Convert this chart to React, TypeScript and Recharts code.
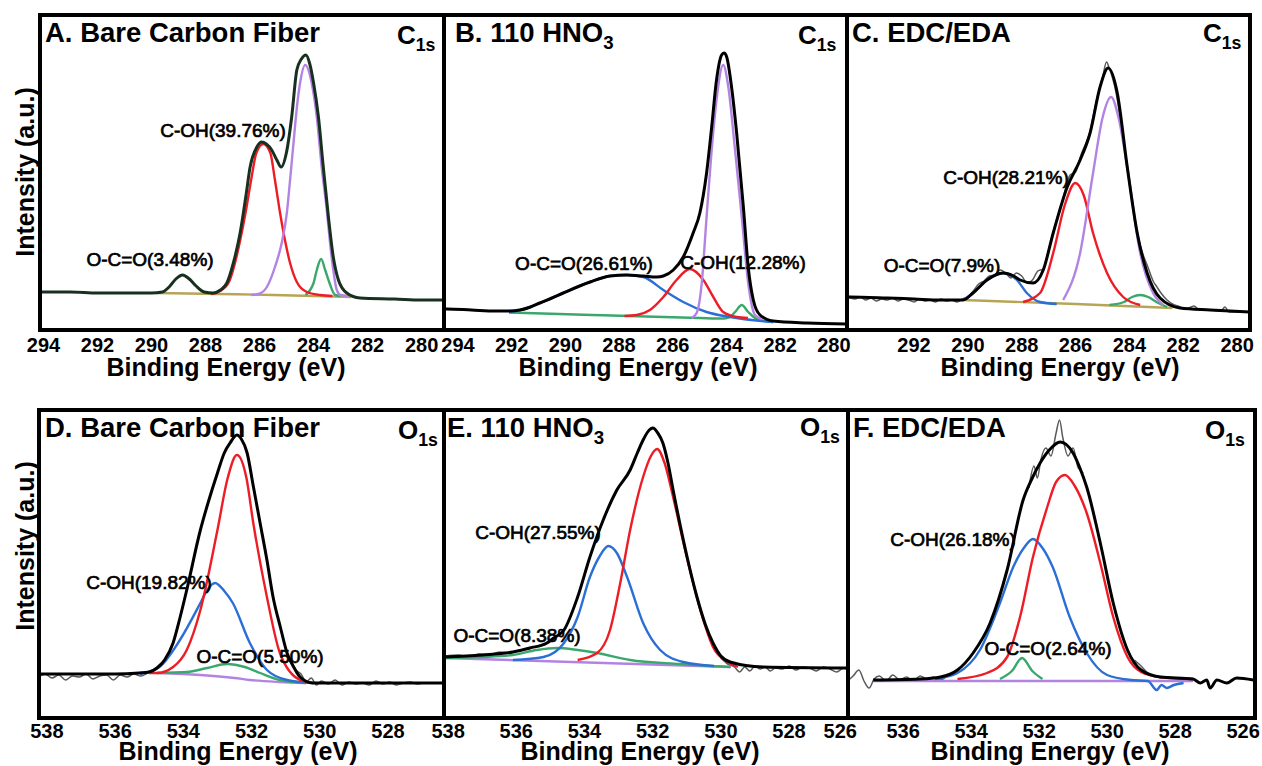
import React from 'react';
import { LineChart, Line, XAxis, YAxis } from 'recharts';

type Pt = [number, number];

const FONT = '"Liberation Sans", Arial, Helvetica, sans-serif';

// tick labels
const c1sTicks = [294, 292, 290, 288, 286, 284, 282, 280];
const c1sTicksC = [292, 290, 288, 286, 284, 282, 280];
const o1sTicksD = [538, 536, 534, 532, 530, 528];
const o1sTicksE = [538, 536, 534, 532, 530, 528, 526];
const o1sTicksF = [536, 534, 532, 530, 528, 526];

// ---- A. Bare carbon fiber, C1s ----
const aEnvelope: Pt[] = [
  [294.13, 38], [293.5, 38], [293.0, 38], [292.0, 37], [291.0, 37], [290.0, 37], [289.6, 38], [289.35, 43],
  [289.1, 51], [288.85, 55], [288.6, 51], [288.35, 44], [288.05, 38], [287.72, 37], [287.45, 40], [287.21, 47],
  [286.97, 67], [286.72, 97], [286.5, 135], [286.35, 163], [286.1, 183], [285.92, 188], [285.75, 186],
  [285.55, 180], [285.36, 170], [285.2, 163], [285.0, 178], [284.81, 213], [284.62, 260], [284.45, 271],
  [284.28, 275], [284.14, 266], [284.0, 247], [283.82, 213], [283.64, 163], [283.45, 113], [283.27, 73],
  [283.08, 50], [282.77, 37], [282.28, 32], [281.0, 31], [280.0, 30], [279.17, 30],
];
const aCOH: Pt[] = [
  [287.8, 36], [287.4, 40], [287.1, 50], [286.9, 68], [286.7, 92], [286.5, 120], [286.3, 152], [286.12, 177],
  [285.86, 186], [285.6, 177], [285.43, 150], [285.24, 117], [285.06, 90], [284.87, 67], [284.62, 48],
  [284.25, 38], [283.76, 35], [283.3, 34],
];
const aCC: Pt[] = [
  [286.3, 35], [286.04, 36], [285.73, 43], [285.43, 63], [285.18, 87], [284.99, 117], [284.87, 150],
  [284.75, 185], [284.62, 222], [284.5, 247], [284.31, 265], [284.07, 247], [283.88, 213], [283.7, 163],
  [283.51, 120], [283.39, 87], [283.27, 60], [283.14, 40], [283.0, 35], [282.7, 34],
];
const aCsp2: Pt[] = [
  [284.3, 35], [284.0, 47], [283.88, 60], [283.72, 71], [283.57, 60], [283.41, 47], [283.2, 35], [283.0, 34],
];
const aBase: Pt[] = [[289.8, 37], [287.5, 36], [285.5, 35], [284.0, 34], [282.6, 33]];

// ---- B. 110 HNO3, C1s ----
const bEnvelope: Pt[] = [
  [294.52, 21], [294.42, 21], [293.5, 20], [292.6, 19], [292.1, 19], [291.69, 20], [291.3, 23], [290.95, 27],
  [290.5, 32], [290.08, 37], [289.08, 48], [288.34, 54], [287.72, 55], [287.1, 54], [286.6, 53], [286.35, 54],
  [285.98, 60], [285.61, 73], [285.24, 97], [284.99, 117], [284.74, 157], [284.55, 203], [284.37, 250],
  [284.18, 275], [284.09, 277], [283.99, 273], [283.81, 243], [283.62, 197], [283.37, 123], [283.19, 63],
  [283.0, 30], [282.75, 15], [282.26, 9], [281.0, 7], [279.51, 6],
];
const bOCO: Pt[] = [
  [292.1, 18], [291.69, 20], [291.3, 23], [290.95, 27], [290.5, 32], [290.08, 37], [289.08, 48], [288.34, 54],
  [287.72, 55], [287.1, 53], [286.35, 40], [285.61, 28], [284.74, 18], [283.87, 13], [282.26, 8],
];
const bCOH: Pt[] = [
  [287.8, 14], [287.34, 15], [286.85, 20], [286.35, 33], [285.86, 50], [285.36, 61], [284.86, 50], [284.49, 33],
  [284.12, 18], [283.62, 13], [283.2, 12],
];
const bCC: Pt[] = [
  [285.3, 12], [285.11, 17], [284.92, 47], [284.74, 113], [284.55, 180], [284.37, 230], [284.12, 265],
  [283.93, 243], [283.68, 180], [283.43, 113], [283.19, 47], [282.94, 15], [282.7, 11],
];
const bCsp2: Pt[] = [
  [292.1, 17.5], [289.0, 15], [287.0, 13.5], [285.0, 12], [284.1, 11.5], [283.87, 13], [283.68, 18], [283.43, 25],
  [283.19, 18], [282.94, 12], [282.6, 9], [282.26, 8],
];

// ---- C. EDC/EDA, C1s ----
const cRaw: Pt[] = [
  [294.45, 33], [294.2, 31], [294.0, 33], [293.8, 30], [293.6, 32], [293.4, 29], [293.2, 31], [293.0, 30],
  [292.8, 32], [292.6, 29], [292.4, 31], [292.2, 30], [292.0, 28], [291.8, 31], [291.6, 29], [291.4, 30],
  [291.2, 28], [291.0, 31], [290.8, 29], [290.6, 30], [290.4, 28], [290.2, 31], [290.0, 33], [289.8, 39],
  [289.6, 46], [289.4, 49], [289.2, 54], [289.0, 55], [288.8, 60], [288.6, 57], [288.4, 52], [288.2, 57],
  [288.0, 54], [287.8, 47], [287.6, 50], [287.4, 59], [287.2, 61], [287.0, 80], [286.8, 101], [286.5, 128],
  [286.2, 155], [286.0, 158], [285.8, 175], [285.5, 195], [285.2, 232], [285.0, 252], [284.85, 268],
  [284.75, 262], [284.5, 238], [284.2, 185], [283.9, 128], [283.6, 85], [283.3, 62], [283.1, 48], [283.0, 44],
  [282.8, 36], [282.6, 30], [282.4, 26], [282.2, 24], [281.9, 21], [281.6, 24], [281.4, 20], [281.0, 20],
  [280.6, 19], [280.45, 23], [280.3, 18], [279.55, 18],
];
const cEnvelope: Pt[] = [
  [294.49, 33], [294.38, 33], [293.0, 32], [292.0, 31], [291.0, 30], [290.18, 30], [289.81, 37], [289.29, 50],
  [288.69, 57], [288.3, 54], [288.06, 50], [287.58, 47], [287.2, 60], [286.83, 97], [286.31, 143], [285.83, 170],
  [285.46, 197], [285.09, 243], [284.79, 262], [284.45, 237], [284.08, 163], [283.71, 97], [283.34, 57],
  [282.86, 32], [282.12, 22], [281.0, 20], [279.52, 18],
];
const cOCO: Pt[] = [
  [290.18, 30], [289.81, 37], [289.29, 50], [288.69, 57], [288.18, 50], [287.81, 37], [287.32, 28], [286.7, 26],
];
const cCOH: Pt[] = [
  [287.95, 28], [287.32, 37], [286.83, 77], [286.4, 125], [286.01, 147], [285.7, 135], [285.35, 97],
  [284.83, 57], [284.23, 33], [283.6, 25],
];
const cCC: Pt[] = [
  [286.46, 30], [285.83, 77], [285.35, 157], [285.0, 212], [284.68, 233], [284.4, 212], [284.08, 163],
  [283.6, 77], [283.12, 37], [282.74, 25],
];
const cCsp2: Pt[] = [[284.74, 25], [284.2, 28], [283.9, 33], [283.6, 35], [283.3, 33], [283.0, 28], [282.6, 23]];
const cBase: Pt[] = [[290.2, 30], [286.0, 26], [282.4, 22]];

// ---- D. Bare carbon fiber, O1s ----
const dRawLeft: Pt[] = [
  [538.2, 42], [538.05, 44], [537.85, 40], [537.65, 43], [537.45, 38], [537.25, 42], [537.05, 41], [536.85, 44],
  [536.65, 39], [536.45, 42], [536.25, 43], [536.05, 38], [535.85, 43], [535.65, 41], [535.45, 44], [535.25, 42],
  [535.05, 45], [534.85, 49], [534.65, 55],
];
const dRawRight: Pt[] = [
  [530.85, 58], [530.7, 48], [530.55, 44], [530.4, 36], [530.25, 40], [530.1, 33], [529.95, 37], [529.75, 34],
  [529.55, 38], [529.35, 33], [529.15, 36], [528.95, 34], [528.75, 35], [528.55, 33], [528.35, 37], [528.15, 34],
  [527.95, 36], [527.75, 33], [527.55, 35], [527.35, 36], [527.15, 34], [526.95, 35], [526.4, 35],
];
const dEnvelope: Pt[] = [
  [538.23, 44], [537.0, 44], [536.0, 44], [535.3, 45], [535.0, 46], [534.77, 50], [534.55, 58], [534.3, 75],
  [534.1, 100], [533.9, 128], [533.5, 188], [533.25, 218], [533.0, 245], [532.8, 265], [532.63, 275],
  [532.43, 283], [532.3, 279], [532.13, 265], [531.95, 232], [531.75, 195], [531.55, 158], [531.37, 121],
  [531.15, 90], [530.96, 65], [530.75, 50], [530.58, 41], [530.2, 35], [529.0, 35], [526.36, 35],
];
const dCO: Pt[] = [
  [535.0, 45], [534.77, 45], [534.3, 51], [533.9, 68], [533.5, 108], [533.0, 188], [532.7, 240], [532.43, 263],
  [532.15, 240], [531.95, 195], [531.55, 121], [531.17, 65], [530.58, 38], [530.2, 35],
];
const dCOH: Pt[] = [
  [535.27, 44], [534.7, 51], [534.1, 78], [533.5, 115], [533.3, 128], [533.07, 135], [532.8, 127], [532.55, 115],
  [532.05, 75], [531.55, 48], [530.96, 38], [530.2, 35],
];
const dOCO: Pt[] = [
  [534.77, 45], [533.9, 46], [533.3, 50], [532.72, 54], [532.2, 51], [531.75, 45], [531.17, 38], [530.4, 35],
];
const dBase: Pt[] = [[534.77, 45], [533.5, 43], [532.5, 40], [532.05, 38], [531.2, 36], [530.4, 35]];

// ---- E. 110 HNO3, O1s ----
const eRawLeft: Pt[] = [
  [538.1, 62], [537.7, 63], [537.4, 61], [537.1, 64], [536.8, 63], [536.5, 66], [536.2, 65], [535.9, 68], [535.6, 69],
];
const eRawRight: Pt[] = [
  [530.0, 60], [529.8, 54], [529.6, 51], [529.45, 46], [529.3, 51], [529.15, 47], [529.0, 52], [528.85, 49],
  [528.7, 51], [528.55, 47], [528.4, 50], [528.2, 49], [528.0, 52], [527.8, 48], [527.6, 51], [527.4, 50],
  [527.2, 47], [527.0, 51], [526.8, 49], [526.6, 46], [526.4, 50], [526.28, 48],
];
const eEnvelope: Pt[] = [
  [538.12, 61], [537.0, 63], [536.1, 66], [535.6, 70], [535.1, 75], [534.9, 80], [534.6, 88], [534.2, 121],
  [533.84, 161], [533.45, 198], [533.05, 228], [532.66, 248], [532.45, 265], [532.28, 278], [532.1, 288],
  [531.99, 290], [531.85, 285], [531.7, 275], [531.55, 255], [531.4, 228], [531.1, 178], [530.7, 121],
  [530.45, 93], [530.23, 75], [530.0, 62], [529.73, 56], [528.76, 51], [526.27, 50],
];
const eCO: Pt[] = [
  [534.2, 58], [533.63, 65], [533.25, 88], [532.95, 135], [532.66, 188], [532.28, 241], [532.05, 262],
  [531.87, 269], [531.65, 255], [531.4, 221], [531.0, 161], [530.6, 108], [530.23, 71], [529.8, 56], [529.5, 51],
];
const eCOH: Pt[] = [
  [536.1, 58], [535.2, 61], [534.6, 75], [534.2, 101], [533.84, 141], [533.55, 162], [533.3, 172], [533.05, 165],
  [532.75, 141], [532.28, 95], [531.78, 68], [531.1, 56], [530.2, 52],
];
const eOCO: Pt[] = [
  [538.12, 60], [537.0, 61], [536.1, 63], [535.4, 68], [534.8, 70], [534.2, 68], [533.63, 65], [532.66, 58],
  [531.2, 54], [529.73, 51],
];
const eBase: Pt[] = [[538.12, 60], [529.7, 51]];

// ---- F. EDC/EDA, O1s ----
const fRawLeft: Pt[] = [
  [537.6, 38], [537.47, 42], [537.3, 48], [537.15, 37], [537.0, 30], [536.85, 39], [536.7, 42], [536.5, 37],
  [536.3, 43], [536.1, 38], [535.9, 41], [535.7, 37], [535.5, 42], [535.3, 39], [535.1, 41], [534.9, 38],
  [534.7, 42], [534.5, 46],
];
const fRawPeak: Pt[] = [
  [532.3, 230], [532.15, 252], [532.05, 240], [531.95, 258], [531.8, 270], [531.65, 262], [531.5, 285],
  [531.4, 298], [531.3, 280], [531.15, 262], [531.0, 270], [530.85, 250], [530.7, 245],
];
const fRawRight: Pt[] = [[529.2, 58], [529.0, 52], [528.8, 45], [528.6, 42], [528.4, 40]];
const fEnvelope: Pt[] = [
  [536.88, 38], [535.5, 39], [534.9, 41], [534.4, 48], [533.94, 65], [533.44, 95], [532.94, 148], [532.47, 218],
  [532.2, 240], [531.97, 255], [531.7, 268], [531.38, 276], [531.0, 265], [530.8, 250], [530.6, 231],
  [530.2, 175], [529.82, 115], [529.4, 68], [529.0, 48], [528.44, 41], [527.47, 39], [527.26, 35], [527.07, 38],
  [526.97, 30], [526.77, 38], [526.48, 35], [526.19, 40], [525.7, 38],
];
const fCO: Pt[] = [
  [534.4, 39], [533.53, 45], [532.94, 61], [532.56, 101], [532.18, 161], [531.76, 211], [531.5, 236],
  [531.24, 243], [530.95, 232], [530.6, 205], [530.2, 155], [529.82, 101], [529.4, 61], [529.0, 46],
  [528.44, 41], [527.5, 39],
];
const fCOH: Pt[] = [
  [535.06, 39], [534.4, 45], [533.74, 68], [533.15, 115], [532.76, 151], [532.45, 170], [532.18, 179],
  [531.9, 170], [531.6, 151], [531.1, 101], [530.6, 65], [530.0, 43], [529.3, 38], [528.8, 37], [528.54, 28],
  [528.4, 33], [528.24, 30], [528.04, 33], [527.75, 35],
];
const fOCO: Pt[] = [[533.15, 39], [532.8, 47], [532.5, 60], [532.2, 47], [531.9, 39]];
const fBase: Pt[] = [[536.88, 37], [527.47, 37]];

const RED = '#ee1c25';
const PURPLE = '#b383e2';
const GREEN = '#3aa86c';
const BLUE = '#2b6fd6';
const RAW = '#5a5a5a';
const OLIVE = '#b7a555';

// room left and right of each plot so the edge tick labels are not cut
const PAD = 30;

interface Curve {
  pts: Pt[];
  color: string;
  w: number;
}

interface PanelProps {
  x: number;
  y: number;
  w: number;
  h: number;
  domain: [number, number];
  ticks: number[];
  tickDy: number;
  tickShift?: Record<number, number>;
  curves: Curve[];
}

function Panel({ x, y, w, h, domain, ticks, tickDy, tickShift = {}, curves }: PanelProps) {
  const renderTick = (p: any) => (
    <text
      x={p.x + (tickShift[p.payload.value] ?? 0)}
      y={p.y + tickDy}
      textAnchor='middle'
      dominantBaseline='central'
      fontSize={20}
      fontWeight='bold'
      fontFamily={FONT}
      fill='#000'
    >
      {p.payload.value}
    </text>
  );
  return (
    <div style={{ position: 'absolute', left: x - PAD, top: y }}>
      <LineChart width={w + PAD * 2} height={h + 40} margin={{ top: 0, right: PAD, bottom: 0, left: PAD }}>
        <XAxis
          dataKey='x'
          type='number'
          domain={domain}
          reversed
          allowDataOverflow
          ticks={ticks}
          interval={0}
          tick={renderTick}
          tickLine={false}
          axisLine={false}
          tickSize={0}
          tickMargin={0}
          height={40}
        />
        <YAxis hide type='number' domain={[0, h]} allowDataOverflow />
        {curves.map((c, i) => (
          <Line
            key={i}
            data={c.pts.map(([px, py]) => ({ x: px, y: py }))}
            dataKey='y'
            type='monotone'
            dot={false}
            activeDot={false}
            stroke={c.color}
            strokeWidth={c.w}
            isAnimationActive={false}
          />
        ))}
      </LineChart>
      <div
        style={{
          position: 'absolute',
          left: PAD - 2,
          top: -2,
          width: w + 4,
          height: h + 4,
          border: '4px solid #000',
          boxSizing: 'border-box',
        }}
      />
    </div>
  );
}

function Txt({
  x,
  y,
  size,
  weight = 'bold',
  anchor = 'middle',
  rotate = false,
  children,
}: {
  x: number;
  y: number;
  size: number;
  weight?: string;
  anchor?: 'start' | 'middle';
  rotate?: boolean;
  children: React.ReactNode;
}) {
  const tx = anchor === 'middle' ? '-50%' : '0';
  return (
    <div
      style={{
        position: 'absolute',
        left: x,
        top: y,
        transform: `translate(${tx}, -50%)${rotate ? ' rotate(-90deg)' : ''}`,
        fontSize: size,
        fontWeight: weight,
        fontFamily: FONT,
        lineHeight: 1,
        whiteSpace: 'nowrap',
        color: '#000',
      }}
    >
      {children}
    </div>
  );
}

const Sub = ({ children }: { children: React.ReactNode }) => (
  <span style={{ fontSize: '0.68em', position: 'relative', top: '0.38em' }}>{children}</span>
);

function Note({ x, y, children }: { x: number; y: number; children: React.ReactNode }) {
  return (
    <Txt x={x} y={y} size={19} weight='normal'>
      <span style={{ WebkitTextStroke: '0.7px #000' }}>{children}</span>
    </Txt>
  );
}

export default function App() {
  const env = (pts: Pt[], color = '#000'): Curve => ({ pts, color, w: 3 });
  const comp = (pts: Pt[], color: string): Curve => ({ pts, color, w: 2.4 });
  const raw = (pts: Pt[]): Curve => ({ pts, color: RAW, w: 1.5 });
  return (
    <div
      style={{
        position: 'absolute',
        left: 0,
        top: 0,
        width: 1262,
        height: 766,
        background: '#fff',
        overflow: 'hidden',
      }}
    >
      <Panel
        x={40} y={15} w={404} h={315} domain={[279.17, 294.13]} ticks={c1sTicks} tickDy={15}
        curves={[comp(aBase, OLIVE), comp(aCsp2, GREEN), comp(aCOH, RED), comp(aCC, PURPLE), env(aEnvelope, '#17301f')]}
      />
      <Panel
        x={444} y={15} w={403} h={315} domain={[279.51, 294.52]} ticks={c1sTicks} tickDy={15}
        curves={[comp(bCsp2, GREEN), comp(bOCO, BLUE), comp(bCOH, RED), comp(bCC, PURPLE), env(bEnvelope)]}
      />
      <Panel
        x={847} y={15} w={403} h={315} domain={[279.52, 294.49]} ticks={c1sTicksC} tickDy={15}
        curves={[raw(cRaw), comp(cBase, OLIVE), comp(cCsp2, GREEN), comp(cOCO, BLUE), comp(cCOH, RED), comp(cCC, PURPLE), env(cEnvelope)]}
      />
      <Panel
        x={39} y={410} w={405} h={308} domain={[526.36, 538.23]} ticks={o1sTicksD} tickDy={13}
        curves={[raw(dRawLeft), raw(dRawRight), comp(dBase, PURPLE), comp(dOCO, GREEN), comp(dCOH, BLUE), comp(dCO, RED), env(dEnvelope)]}
      />
      <Panel
        x={444} y={410} w={404} h={308} domain={[526.27, 538.12]} ticks={o1sTicksE} tickDy={13}
        tickShift={{ 526: -17 }}
        curves={[raw(eRawLeft), raw(eRawRight), comp(eBase, PURPLE), comp(eOCO, GREEN), comp(eCOH, BLUE), comp(eCO, RED), env(eEnvelope)]}
      />
      <Panel
        x={848} y={410} w={407} h={308} domain={[525.65, 537.62]} ticks={o1sTicksF} tickDy={13}
        curves={[raw(fRawLeft), raw(fRawPeak), raw(fRawRight), comp(fBase, PURPLE), comp(fOCO, GREEN), comp(fCOH, BLUE), comp(fCO, RED), env(fEnvelope)]}
      />

      {/* panel titles */}
      <Txt x={45} y={33} size={27.5} anchor='start'>A. Bare Carbon Fiber</Txt>
      <Txt x={455} y={33} size={27.5} anchor='start'>B. 110 HNO<Sub>3</Sub></Txt>
      <Txt x={852} y={33} size={27.5} anchor='start'>C. EDC/EDA</Txt>
      <Txt x={45} y={428} size={27.5} anchor='start'>D. Bare Carbon Fiber</Txt>
      <Txt x={447} y={428} size={27.5} anchor='start'>E. 110 HNO<Sub>3</Sub></Txt>
      <Txt x={853} y={428} size={27.5} anchor='start'>F. EDC/EDA</Txt>

      <Txt x={397} y={35} size={26} anchor='start'>C<Sub>1s</Sub></Txt>
      <Txt x={798} y={35} size={26} anchor='start'>C<Sub>1s</Sub></Txt>
      <Txt x={1203} y={33} size={26} anchor='start'>C<Sub>1s</Sub></Txt>
      <Txt x={398} y={430} size={26} anchor='start'>O<Sub>1s</Sub></Txt>
      <Txt x={800} y={427} size={26} anchor='start'>O<Sub>1s</Sub></Txt>
      <Txt x={1205} y={430} size={26} anchor='start'>O<Sub>1s</Sub></Txt>

      {/* peak annotations */}
      <Note x={223} y={130}>C-OH(39.76%)</Note>
      <Note x={150} y={259}>O-C=O(3.48%)</Note>
      <Note x={584} y={263}>O-C=O(26.61%)</Note>
      <Note x={743} y={262}>C-OH(12.28%)</Note>
      <Note x={1006} y={177}>C-OH(28.21%)</Note>
      <Note x={942} y={265}>O-C=O(7.9%)</Note>
      <Note x={149} y={582}>C-OH(19.82%)</Note>
      <Note x={260} y={656}>O-C=O(5.50%)</Note>
      <Note x={538} y={532}>C-OH(27.55%)</Note>
      <Note x={517} y={635}>O-C=O(8.38%)</Note>
      <Note x={953} y={539}>C-OH(26.18%)</Note>
      <Note x={1048} y={648}>O-C=O(2.64%)</Note>

      {/* axis titles */}
      <Txt x={226} y={367} size={25}>Binding Energy (eV)</Txt>
      <Txt x={638} y={367} size={25}>Binding Energy (eV)</Txt>
      <Txt x={1060} y={367} size={25}>Binding Energy (eV)</Txt>
      <Txt x={238} y={751} size={25}>Binding Energy (eV)</Txt>
      <Txt x={640} y={751} size={25}>Binding Energy (eV)</Txt>
      <Txt x={1050} y={751} size={25}>Binding Energy (eV)</Txt>
      <Txt x={25} y={172} size={25} rotate>Intensity (a.u.)</Txt>
      <Txt x={25} y={546} size={25} rotate>Intensity (a.u.)</Txt>
    </div>
  );
}
